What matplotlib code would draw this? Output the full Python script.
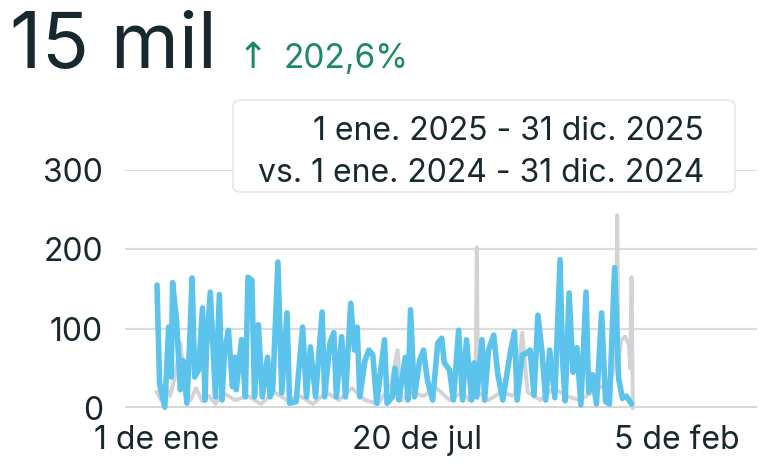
import matplotlib
matplotlib.use("Agg")
import matplotlib.pyplot as plt
from matplotlib.patches import FancyBboxPatch

# ---- data ----
blue_days = [0, 2, 6, 9, 11, 12, 15, 18, 20, 23, 25, 27, 29, 32, 35, 37, 38, 41, 45, 48, 50, 52, 55, 58,
             60, 61, 65, 68, 70, 73, 75, 78, 81, 85, 87, 89, 93, 96, 100, 102, 107, 112, 115, 118,
             122, 127, 129, 133, 136, 138, 142, 145, 149, 152, 154, 156, 160, 163, 166, 169, 175, 177, 181, 183,
             186, 191, 193, 195, 198, 202, 205, 208, 212, 216, 219, 221, 225, 228, 232, 235, 238, 242,
             244, 246, 250, 252, 255, 259, 262, 266, 272, 275, 277, 281, 284, 287, 290, 293, 296, 299, 302,
             306, 310, 312, 314, 317, 320, 323, 326, 330, 332, 335, 338, 342, 345, 348, 352, 355, 358, 361, 365]
blue_vals = [155, 31, 1, 102, 39, 158, 111, 23, 60, 6, 77, 164, 39, 48, 126, 10, 73, 146, 14, 143, 10, 73, 98, 27,
             64, 23, 86, 14, 165, 161, 14, 105, 14, 64, 14, 23, 184, 19, 120, 6, 8, 102, 14, 77,
             14, 121, 14, 82, 95, 14, 90, 14, 132, 73, 102, 14, 60, 73, 67, 6, 86, 6, 14, 50,
             10, 64, 10, 124, 14, 60, 73, 35, 10, 82, 88, 57, 48, 10, 98, 10, 86, 10,
             57, 14, 86, 10, 73, 92, 44, 10, 73, 96, 10, 67, 69, 73, 16, 117, 73, 10, 73,
             13, 187, 58, 9, 145, 45, 76, 4, 146, 20, 42, 5, 120, 8, 5, 177, 38, 12, 15, 5]

gray_days = [0, 3, 6, 10, 14, 18, 22, 26, 30, 35, 40, 45, 50, 60, 70, 80, 90, 100, 110, 120, 130, 140, 150,
             160, 170, 180, 185, 188, 195, 205, 215, 225, 235, 240, 245, 246, 247, 255, 265, 275, 281, 285,
             295, 305, 315, 325, 335, 345, 350, 353, 354, 355, 357, 360, 363, 364, 365, 366]
gray_vals = [20, 10, 30, 15, 40, 82, 20, 10, 25, 8, 15, 5, 20, 10, 15, 5, 20, 10, 15, 5, 20, 10, 25,
             10, 5, 30, 73, 10, 20, 15, 25, 10, 20, 10, 30, 203, 20, 10, 20, 15, 95, 20,
             10, 25, 15, 10, 20, 30, 40, 60, 243, 60, 85, 90, 80, 50, 165, 0]

y_ticks = [0, 100, 200, 300]
x_ticks = [0, 200, 400]
x_labels = ["1 de ene", "20 de jul", "5 de feb"]

total_text = "15 mil"
change_text = "202,6%"
range_lines = ["1 ene. 2025 - 31 dic. 2025", "vs. 1 ene. 2024 - 31 dic. 2024"]

# ---- style ----
FONT = ["Inter", "DejaVu Sans"]
plt.rcParams["font.family"] = FONT
DARK = "#17282f"
GREEN = "#1b8a5e"
BLUE = "#5bc3ec"
GRAY = "#d3d3d7"
GRID = "#dcdcdc"

W, H = 779, 466
fig = plt.figure(figsize=(W / 100, H / 100), dpi=100)

def fx(px):
    return px / W

def fy(py):
    return 1 - py / H

ax = fig.add_axes([fx(125), fy(408), fx(757) - fx(125), fy(170) - fy(408)])
ax.set_xlim(-24.6, 461.5)
ax.set_ylim(0, 300)

for v in y_ticks:
    ax.axhline(v, color=GRID if v else "#d6d6d6", lw=1.6 if v else 2.8, zorder=0)

ax.plot(gray_days, gray_vals, color=GRAY, lw=2.8, solid_joinstyle="round", zorder=1, clip_on=False)
ax.plot(blue_days, blue_vals, color=BLUE, lw=4.0, solid_joinstyle="round", solid_capstyle="round",
        zorder=2, clip_on=False)

for s in ax.spines.values():
    s.set_visible(False)
ax.set_yticks(y_ticks)
ax.set_yticklabels([str(v) for v in y_ticks])
ax.set_xticks(x_ticks)
ax.set_xticklabels(x_labels)
ax.tick_params(axis="both", length=0, colors=DARK)
ax.tick_params(axis="y", pad=16, labelsize=23)
ax.tick_params(axis="x", pad=12, labelsize=23)

# header
fig.text(fx(10), fy(68), total_text, fontsize=56, color=DARK, va="baseline", ha="left")
fig.text(fx(238), fy(68), "\u2191", fontsize=26, color=GREEN, va="baseline", ha="left",
         family=["DejaVu Sans"])
fig.text(fx(284), fy(68), change_text, fontsize=24, color=GREEN, va="baseline", ha="left")

# tooltip box
box = FancyBboxPatch((fx(233), fy(192)), fx(735) - fx(233), fy(100) - fy(192),
                     boxstyle="round,pad=0,rounding_size=0.012",
                     transform=fig.transFigure, facecolor="white", edgecolor="#e6e6e6",
                     lw=1.2, zorder=5)
fig.patches.append(box)
fig.text(fx(704), fy(140), range_lines[0], fontsize=23, color=DARK, ha="right", va="baseline", zorder=6)
fig.text(fx(704), fy(182), range_lines[1], fontsize=23, color=DARK, ha="right", va="baseline", zorder=6)

fig.savefig("out.png", dpi=100, facecolor="white")
